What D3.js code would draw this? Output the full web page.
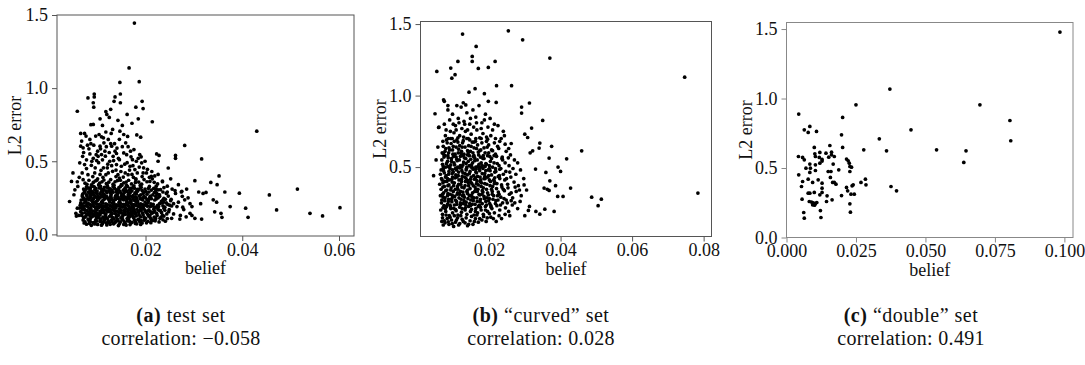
<!DOCTYPE html>
<html>
<head>
<meta charset="utf-8">
<script src="https://cdn.jsdelivr.net/npm/d3@7"></script>
<style>
  body { margin: 0; background: #fff; }
  text { font-family: "Liberation Serif", "Times New Roman", serif; }
</style>
</head>
<body>
<svg id="fig" width="1085" height="365"></svg>
<script>
// (belief, L2 error) pairs for each evaluation set

// (a) test set
const pointsA = [
  // isolated points
  [.0177,1.445],[.0166,1.138],[.0147,1.039],[.0187,1.044],[.0059,.842],[.0081,.933],[.0094,.96],[.0094,.94],
  [.0092,.9],[.0093,.87],[.0137,.94],[.0148,.96],[.0135,.91],[.0148,.9],[.0193,.91],[.0195,.86],[.018,.87],
  [.0185,.79],[.0118,.84],[.012,.82],[.0128,.855],[.0214,.77],[.0087,.75],[.0092,.752],[.0152,.745],[.0111,.745],
  [.0066,.69],[.0074,.69],[.0182,.68],[.019,.665],[.043,.706],[.0281,.608],[.0316,.516],[.0262,.54],[.0262,.52],
  [.0223,.55],[.0228,.54],[.0226,.5],[.0247,.454],[.0302,.367],[.0335,.355],[.0352,.4],[.0348,.34],[.0364,.29],
  [.031,.29],[.0319,.28],[.0325,.287],[.034,.236],[.0347,.22],[.0375,.19],[.0394,.282],[.0407,.179],[.0412,.117],
  [.0456,.27],[.0471,.167],[.0514,.31],[.054,.144],[.0566,.126],[.0602,.183],[.0314,.21],[.0316,.105],[.0343,.154],
  [.0356,.144],[.0358,.117],[.0292,.21],[.0292,.144],[.0281,.236],[.0274,.29],[.0276,.26],[.0271,.105],[.0254,.11],
  [.0277,.186],[.0125,.8],[.0143,.78],[.0106,.79],[.0162,.82],[.0172,.76],
  // middle band
  [.0068,.638],[.0066,.603],[.0071,.592],[.0077,.672],[.008,.61],[.0085,.649],[.0097,.672],[.0104,.683],[.0106,.603],
  [.0101,.569],[.0085,.55],[.007,.534],[.0064,.489],[.0074,.477],[.0088,.472],[.0099,.505],[.0109,.546],[.0116,.569],
  [.0114,.626],[.0123,.649],[.013,.603],[.0133,.534],[.0137,.569],[.014,.553],[.0126,.5],[.014,.477],[.0146,.511],
  [.015,.466],[.0155,.557],[.0159,.626],[.0155,.683],[.0147,.706],[.0132,.718],[.0118,.7],[.0109,.667],[.0169,.569],
  [.0173,.511],[.0168,.466],[.0178,.443],[.0188,.546],[.0192,.489],[.0195,.42],[.0202,.42],[.0209,.362],[.0212,.397],
  [.0218,.356],[.018,.374],[.0164,.408],[.0154,.392],[.0143,.408],[.0132,.431],[.0118,.408],[.0108,.438],[.0095,.42],
  [.0081,.408],[.0071,.374],[.006,.328],[.0054,.305],[.0047,.362],[.005,.42],[.0043,.225],[.0052,.271],[.0056,.144],
  [.0059,.179],[.0102,.534],[.0121,.455],[.0162,.49],[.0185,.52],[.0136,.62],[.0092,.52],
  [.0072,.56],[.0078,.51],[.0083,.585],[.0089,.5],[.0093,.61],[.0096,.455],[.0098,.545],[.0103,.49],[.0107,.585],
  [.0111,.51],[.0113,.455],[.0117,.535],[.0119,.6],[.0122,.48],[.0125,.56],[.0128,.62],[.013,.47],[.0134,.505],
  [.0139,.44],[.0141,.59],[.0144,.52],[.0149,.43],[.0152,.6],[.0157,.48],[.0161,.545],[.0164,.6],[.0167,.44],
  [.017,.53],[.0174,.47],[.0176,.58],[.0181,.5],[.0183,.42],[.0187,.46],[.0191,.53],[.0196,.455],[.0199,.5],
  [.0204,.445],[.0208,.39],[.0213,.43],[.0219,.4],[.0091,.395],[.0099,.37],[.0106,.41],[.0112,.39],[.0123,.42],
  [.0139,.395],[.0148,.37],[.0158,.42],[.0172,.41],[.0179,.355],[.0193,.395],[.0113,.66],[.0129,.69],[.0146,.65],
  [.0163,.67],[.0087,.62],[.0078,.45],[.0069,.42],[.0063,.39],[.0059,.36],
  // right shoulder of the cluster
  [.0222,.31],[.0229,.27],[.0237,.22],[.0243,.28],[.0249,.17],[.0253,.24],[.0258,.14],[.0261,.3],[.0265,.19],
  [.0268,.22],[.0272,.13],[.0279,.17],[.0284,.12],[.0288,.25],[.0296,.19],[.0226,.41],[.0235,.36],[.0245,.33],
  [.0252,.38],[.0268,.34],[.0285,.31],[.0296,.13],[.0302,.11],
  // dense cluster
  [.0075,.085],[.0078,.07],[.0083,.095],[.0088,.062],[.0092,.08],[.0097,.1],[.0101,.068],[.0106,.088],[.0111,.075],
  [.0115,.097],[.012,.065],[.0125,.082],[.013,.1],[.0134,.072],[.0139,.09],[.0144,.06],[.0148,.085],[.0153,.1],
  [.0158,.075],[.0163,.092],[.0168,.067],[.0172,.083],[.0177,.098],[.0182,.072],[.0188,.088],[.0193,.078],[.0205,.09],
  [.0215,.095],[.0228,.085],[.0236,.1],
  [.0073,.078],[.0081,.105],[.0086,.087],[.0095,.071],[.0099,.092],[.0104,.112],[.0109,.063],[.0113,.084],[.0118,.121],
  [.0123,.093],[.0127,.069],[.0132,.115],[.0137,.081],[.0142,.103],[.0146,.072],[.0151,.118],[.0156,.088],[.016,.064],
  [.0165,.106],[.017,.078],[.0175,.117],[.0179,.086],[.0184,.1],[.019,.068],[.0197,.097],[.0202,.079],[.021,.112],
  [.022,.093],[.0232,.118],[.0241,.09],
  [.0071,.098],[.0084,.076],[.0096,.086],[.0107,.096],[.0119,.079],[.0131,.087],[.0143,.094],[.0155,.068],[.0167,.09],
  [.0179,.075],[.0191,.094],[.0199,.1],[.0211,.08],
  [.0068,.13],[.0072,.112],[.0077,.125],[.0082,.138],[.0086,.108],[.009,.122],[.0094,.135],[.0099,.115],[.0103,.128],
  [.0108,.104],[.0112,.118],[.0117,.132],[.0121,.11],[.0126,.124],[.013,.138],[.0135,.105],[.0139,.119],[.0144,.131],
  [.0149,.112],[.0153,.126],[.0158,.137],[.0162,.108],[.0167,.121],[.0171,.133],[.0176,.114],[.0181,.127],[.0186,.105],
  [.019,.12],[.0195,.134],[.02,.11],[.0206,.125],[.0212,.102],[.0218,.118],[.0224,.13],[.023,.11],[.0238,.125],
  [.0245,.108],[.0062,.13],[.0057,.125],
  [.0074,.118],[.0085,.128],[.0097,.126],[.0106,.133],[.0116,.108],[.0128,.13],[.0141,.124],[.0152,.105],[.0164,.128],
  [.0174,.124],[.0187,.132],[.0197,.118],[.0209,.13],[.0221,.109],[.0235,.132],
  [.0069,.145],[.0074,.168],[.0079,.138],[.0083,.152],[.0087,.171],[.0091,.141],[.0096,.154],[.01,.167],[.0105,.139],
  [.0109,.149],[.0114,.164],[.0118,.14],[.0122,.155],[.0127,.172],[.0131,.146],[.0136,.162],[.014,.136],[.0145,.151],
  [.0149,.168],[.0154,.139],[.0158,.156],[.0163,.171],[.0167,.143],[.0171,.154],[.0175,.169],[.018,.137],[.0185,.158],
  [.0189,.17],[.0194,.146],[.0199,.164],[.0204,.139],[.021,.156],[.0217,.172],[.0223,.144],[.0231,.162],[.0244,.14],
  [.0066,.155],[.007,.172],[.0075,.148],[.0079,.163],[.0084,.178],[.0088,.145],[.0092,.16],[.0097,.175],[.0101,.142],
  [.0106,.157],[.011,.17],[.0114,.148],[.0119,.165],[.0123,.178],[.0128,.152],[.0132,.168],[.0137,.143],[.0141,.159],
  [.0146,.174],[.015,.147],[.0155,.162],[.0159,.177],[.0164,.15],[.0168,.166],[.0173,.142],[.0177,.158],[.0182,.172],
  [.0186,.148],[.0191,.163],[.0196,.178],[.0201,.152],[.0207,.167],[.0213,.145],[.0219,.16],[.0226,.172],[.0233,.15],
  [.024,.165],[.0248,.155],
  [.0073,.178],[.0086,.162],[.0098,.145],[.0111,.18],[.0124,.161],[.0134,.176],[.0147,.158],[.0157,.145],[.0169,.175],
  [.0179,.149],[.0192,.18],[.0205,.16],[.0216,.15],[.0228,.165],[.0238,.178],
  [.0065,.2],[.0069,.185],[.0073,.215],[.0078,.195],[.0082,.21],[.0087,.183],[.0091,.198],[.0095,.218],[.01,.188],
  [.0104,.205],[.0109,.22],[.0113,.192],[.0118,.208],[.0122,.182],[.0127,.197],[.0131,.214],[.0136,.186],[.014,.202],
  [.0145,.218],[.0149,.19],[.0154,.206],[.0158,.183],[.0163,.199],[.0167,.215],[.0172,.188],[.0176,.204],[.0181,.22],
  [.0185,.192],[.019,.208],[.0195,.185],[.02,.2],[.0205,.216],[.021,.19],[.0216,.205],[.0222,.186],[.0229,.21],
  [.0236,.195],[.0243,.215],[.025,.2],[.0258,.21],
  [.0064,.18],[.0068,.206],[.0072,.193],[.0077,.222],[.0081,.188],[.0086,.204],[.009,.225],[.0094,.191],[.0099,.207],
  [.0103,.182],[.0108,.198],[.0112,.213],[.0117,.186],[.0121,.203],[.0126,.221],[.013,.19],[.0135,.209],[.0139,.183],
  [.0144,.196],[.0148,.212],[.0153,.187],[.0157,.202],[.0162,.223],[.0166,.191],[.0171,.208],[.0175,.184],[.018,.198],
  [.0184,.214],[.0189,.189],[.0194,.203],[.0199,.221],[.0204,.193],[.0211,.208],[.0218,.184],[.0225,.199],[.0233,.215],
  [.024,.186],[.0254,.194],
  [.0066,.215],[.0079,.205],[.0092,.21],[.0106,.19],[.0119,.198],[.0133,.197],[.0146,.2],[.016,.21],[.0173,.196],
  [.0187,.2],[.0202,.207],[.0214,.196],[.0227,.19],[.0246,.205],
  [.0067,.235],[.0071,.252],[.0076,.228],[.008,.245],[.0085,.258],[.0089,.232],[.0093,.248],[.0098,.225],[.0102,.24],
  [.0107,.256],[.0111,.23],[.0116,.246],[.012,.259],[.0125,.234],[.0129,.25],[.0134,.224],[.0138,.24],[.0143,.255],
  [.0147,.229],[.0152,.245],[.0156,.258],[.0161,.232],[.0165,.248],[.017,.226],[.0174,.242],[.0179,.256],[.0184,.23],
  [.0189,.246],[.0194,.236],[.02,.252],[.0206,.228],[.0212,.244],[.0219,.235],[.0226,.25],[.0233,.226],[.0241,.24],
  [.0252,.23],
  [.0069,.262],[.0074,.243],[.0078,.27],[.0083,.236],[.0087,.264],[.0092,.241],[.0096,.261],[.0101,.233],[.0105,.249],
  [.011,.266],[.0114,.238],[.0119,.253],[.0123,.244],[.0128,.261],[.0132,.237],[.0137,.252],[.0141,.268],[.0146,.243],
  [.015,.26],[.0155,.236],[.0159,.251],[.0164,.265],[.0168,.24],[.0173,.258],[.0177,.233],[.0182,.249],[.0187,.264],
  [.0192,.241],[.0197,.258],[.0203,.238],[.0209,.255],[.0215,.27],[.0222,.242],[.0229,.26],[.0238,.246],[.0247,.262],
  [.0072,.24],[.0086,.25],[.0099,.252],[.0113,.258],[.0126,.242],[.014,.246],[.0153,.24],[.0167,.26],[.018,.24],
  [.0195,.25],[.0208,.245],[.0221,.26],[.0236,.236],
  [.007,.275],[.0075,.29],[.0079,.265],[.0084,.282],[.0088,.296],[.0093,.27],[.0097,.286],[.0102,.262],[.0106,.278],
  [.0111,.293],[.0115,.268],[.012,.284],[.0124,.298],[.0129,.272],[.0133,.288],[.0138,.263],[.0142,.279],[.0147,.294],
  [.0151,.269],[.0156,.285],[.016,.3],[.0165,.274],[.0169,.29],[.0174,.266],[.0178,.282],[.0184,.296],[.019,.27],
  [.0196,.288],[.0203,.275],[.021,.262],[.0218,.285],[.0227,.272],[.0236,.29],[.0262,.28],[.0275,.295],
  [.0073,.285],[.0087,.275],[.01,.28],[.0113,.278],[.0127,.285],[.0141,.288],[.0154,.276],[.0167,.282],[.0181,.276],
  [.0195,.278],[.0207,.29],[.0223,.28],[.0245,.29],
  [.0074,.302],[.0077,.31],[.0082,.29],[.0086,.318],[.0091,.287],[.0095,.304],[.01,.296],[.0104,.318],[.0108,.29],
  [.0113,.306],[.0118,.297],[.0123,.318],[.0127,.291],[.0131,.303],[.0136,.316],[.014,.292],[.0144,.307],[.0149,.283],
  [.0154,.302],[.0158,.318],[.0162,.292],[.0167,.304],[.0172,.298],[.0177,.316],[.0181,.293],[.0187,.31],[.0193,.3],
  [.0201,.293],[.0212,.303],[.0221,.296],[.0231,.306],
  [.0072,.31],[.0078,.325],[.0085,.305],[.0091,.33],[.0097,.315],[.0103,.338],[.0109,.308],[.0115,.322],[.0121,.335],
  [.0127,.312],[.0133,.328],[.0139,.305],[.0145,.32],[.0151,.336],[.0157,.31],[.0163,.326],[.0169,.314],[.0176,.332],
  [.0183,.308],[.0191,.322],[.0199,.31],[.0208,.328],[.0217,.315],[.0226,.305],[.0238,.32],[.0255,.31],
  [.0081,.318],[.0094,.325],[.0107,.328],[.0121,.322],[.0135,.336],[.0148,.327],[.0161,.336],[.0174,.322],[.0189,.335],
  [.0206,.315],[.0222,.33],
  [.0075,.35],[.0083,.37],[.0092,.355],[.0101,.38],[.011,.36],[.0119,.348],[.0128,.375],[.0137,.36],[.0146,.385],
  [.0155,.352],[.0165,.37],[.0175,.39],[.0186,.358],[.0197,.375],[.0225,.345],[.0235,.365],
  [.0079,.342],[.0088,.338],[.0096,.365],[.0105,.35],[.0114,.372],[.0124,.357],[.0133,.343],[.0142,.368],[.015,.34],
  [.016,.358],[.0171,.345],[.018,.38],[.0192,.343],[.0203,.36],[.0214,.38]
];

// (b) "curved" set
const pointsB = [
  // isolated points
  [.0126,1.43],[.0254,1.453],[.0294,1.39],[.037,1.262],[.0747,1.129],[.0784,.318],[.0054,1.169],[.0093,1.192],
  [.0096,1.122],[.0105,1.146],[.0113,1.239],[.0153,1.274],[.0153,1.239],[.0164,1.344],[.017,1.19],[.0198,1.197],
  [.0217,1.239],[.0221,1.069],[.0263,1.069],[.0161,1.048],[.0144,1.024],[.0187,1.013],[.0198,.96],[.022,.952],
  [.0291,.92],[.0291,.878],[.0313,.948],[.035,.826],[.0319,.773],[.03,.73],[.0308,.707],[.0049,.873],[.0073,.97],
  [.0059,.777],[.0459,.614],[.0417,.558],[.0375,.645],[.0368,.563],[.0342,.668],[.034,.633],[.0322,.614],[.0315,.6],
  [.0393,.5],[.04,.47],[.0359,.463],[.033,.486],[.037,.404],[.0368,.337],[.0363,.345],[.0386,.37],[.0392,.295],
  [.0407,.295],[.0428,.353],[.0487,.29],[.0514,.276],[.0505,.23],[.0354,.353],[.0382,.19],[.0356,.206],[.0342,.171],
  [.0331,.19],[.031,.197],[.0313,.225],[.03,.16],[.0045,.44],[.0052,.55],[.0057,.64],[.006,.78],[.0075,.96],
  [.0085,.93],[.0128,.95],[.0135,.935],[.011,.93],
  // dense cluster
  [.0068,.12],[.0072,.095],[.0077,.11],[.0083,.14],[.0088,.1],[.0095,.13],[.0101,.085],[.0106,.115],[.0112,.145],
  [.0118,.105],[.0125,.135],[.0133,.11],[.014,.09],[.0147,.125],[.0155,.1],[.0162,.14],[.017,.115],[.018,.13],
  [.0195,.145],[.0205,.15],[.022,.12],[.0235,.14],
  [.007,.145],[.0075,.125],[.008,.165],[.0086,.118],[.0091,.15],[.0097,.105],[.0103,.16],[.0109,.13],[.0115,.095],
  [.0121,.16],[.0128,.12],[.0136,.145],[.0143,.1],[.0151,.155],[.0159,.12],[.0166,.165],[.0174,.14],[.0185,.155],
  [.0192,.12],[.0201,.175],[.0212,.14],[.0228,.16],[.0245,.17],[.0258,.16],
  [.0065,.2],[.007,.17],[.0074,.23],[.0079,.19],[.0084,.24],[.0089,.16],[.0093,.21],[.0098,.18],[.0103,.235],
  [.0108,.195],[.0113,.165],[.0118,.22],[.0123,.185],[.0128,.245],[.0133,.2],[.0138,.17],[.0143,.225],[.0148,.19],
  [.0153,.24],[.0158,.165],[.0163,.21],[.0168,.18],[.0173,.235],[.0178,.2],[.0184,.17],[.019,.225],[.0196,.19],
  [.0202,.245],[.0208,.21],[.0215,.18],[.0222,.23],[.023,.2],[.0238,.25],[.0246,.215],[.0255,.19],[.0265,.235],
  [.028,.21],
  [.0078,.21],[.0092,.225],[.0106,.205],[.012,.235],[.0134,.215],[.0148,.23],[.0162,.19],[.0176,.22],[.019,.2],
  [.0206,.22],
  [.0067,.25],[.0071,.215],[.0076,.265],[.0081,.225],[.0087,.275],[.0091,.235],[.0096,.258],[.0101,.212],[.0106,.27],
  [.011,.24],[.0116,.285],[.012,.25],[.0125,.21],[.013,.265],[.0135,.235],[.0141,.28],[.0146,.245],[.0151,.205],
  [.0156,.265],[.0161,.24],[.0166,.285],[.017,.225],[.0175,.26],[.0181,.245],[.0187,.28],[.0193,.235],[.0199,.265],
  [.0205,.23],[.0211,.275],[.0218,.245],[.0225,.27],[.0232,.235],[.0242,.28],[.0251,.25],[.0262,.265],[.0272,.25],
  [.0287,.26],
  [.0064,.3],[.0068,.27],[.0073,.32],[.0077,.285],[.0082,.34],[.0086,.26],[.0091,.31],[.0095,.275],[.01,.33],
  [.0104,.295],[.0109,.26],[.0113,.345],[.0118,.31],[.0122,.275],[.0127,.325],[.0131,.29],[.0136,.255],[.014,.34],
  [.0145,.3],[.0149,.27],[.0154,.32],[.0158,.285],[.0163,.345],[.0167,.26],[.0172,.31],[.0176,.275],[.0181,.335],
  [.0186,.295],[.0191,.26],[.0196,.32],[.0201,.28],[.0207,.345],[.0213,.3],[.0219,.265],[.0226,.325],[.0233,.29],
  [.024,.345],[.0248,.27],[.0257,.31],[.0266,.285],[.0276,.33],[.029,.3],[.0305,.34],
  [.0072,.29],[.0085,.315],[.0098,.29],[.0112,.32],[.0126,.3],[.014,.315],[.0153,.29],[.0167,.33],[.018,.31],
  [.0194,.285],[.0209,.31],[.0224,.3],
  [.0066,.345],[.007,.31],[.0075,.365],[.0079,.335],[.0084,.3],[.0088,.375],[.0093,.34],[.0097,.305],[.0101,.37],
  [.0106,.345],[.0111,.31],[.0115,.38],[.012,.33],[.0124,.36],[.0129,.305],[.0133,.37],[.0138,.33],[.0142,.39],
  [.0147,.35],[.0151,.305],[.0156,.37],[.016,.33],[.0165,.385],[.0169,.345],[.0174,.305],[.0178,.365],[.0183,.325],
  [.0188,.385],[.0193,.345],[.0198,.305],[.0203,.37],[.0209,.33],[.0215,.385],[.0221,.35],[.0228,.31],[.0235,.375],
  [.0243,.335],[.0253,.355],[.0262,.32],[.0273,.36],[.0285,.34],[.0298,.375],
  [.0062,.38],[.0067,.42],[.0071,.36],[.0076,.4],[.008,.44],[.0085,.37],[.0089,.41],[.0094,.355],[.0098,.43],
  [.0103,.39],[.0107,.445],[.0112,.365],[.0116,.41],[.0121,.38],[.0125,.435],[.013,.355],[.0134,.4],[.0139,.445],
  [.0143,.37],[.0148,.415],[.0152,.385],[.0157,.44],[.0161,.36],[.0166,.405],[.017,.375],[.0175,.43],[.0179,.39],
  [.0184,.355],[.0189,.42],[.0194,.38],[.0199,.44],[.0204,.4],[.021,.365],[.0216,.425],[.0222,.385],[.0229,.44],
  [.0236,.36],[.0244,.41],[.0252,.38],[.0261,.43],[.027,.395],[.0282,.37],[.0297,.42],
  [.0071,.39],[.0084,.42],[.0097,.395],[.011,.43],[.0123,.4],[.0136,.42],[.0149,.395],[.0162,.425],[.0175,.4],
  [.0188,.435],[.0201,.41],[.0215,.4],[.023,.42],
  [.0064,.45],[.0069,.41],[.0073,.475],[.0078,.43],[.0082,.4],[.0087,.45],[.0091,.49],[.0096,.415],[.01,.465],
  [.0105,.425],[.0109,.48],[.0114,.44],[.0118,.495],[.0123,.415],[.0127,.46],[.0132,.43],[.0136,.48],[.0141,.405],
  [.0145,.455],[.015,.43],[.0154,.495],[.0159,.415],[.0163,.465],[.0168,.435],[.0172,.49],[.0177,.41],[.0181,.455],
  [.0186,.42],[.0191,.475],[.0196,.43],[.0201,.49],[.0207,.445],[.0213,.41],[.0219,.47],[.0226,.435],[.0233,.49],
  [.024,.45],[.0249,.42],[.0258,.465],[.0275,.45],[.0288,.48],
  [.0066,.48],[.007,.52],[.0075,.46],[.0079,.5],[.0084,.54],[.0088,.47],[.0093,.515],[.0097,.455],[.0102,.53],
  [.0106,.49],[.0111,.545],[.0115,.465],[.012,.51],[.0124,.475],[.0129,.535],[.0133,.455],[.0138,.5],[.0142,.54],
  [.0147,.47],[.0151,.515],[.0156,.485],[.016,.545],[.0165,.46],[.0169,.505],[.0174,.475],[.0178,.53],[.0183,.49],
  [.0188,.455],[.0193,.52],[.0198,.48],[.0204,.54],[.021,.5],[.0216,.465],[.0223,.525],[.023,.485],[.0238,.55],
  [.0247,.47],[.0256,.51],[.0267,.49],[.028,.53],
  [.0072,.49],[.0085,.505],[.0098,.48],[.0111,.495],[.0124,.5],[.0137,.49],[.015,.5],[.0163,.485],[.0176,.5],
  [.0189,.505],[.0203,.475],[.0218,.49],
  [.0068,.55],[.0072,.505],[.0077,.58],[.0081,.525],[.0086,.565],[.009,.5],[.0095,.54],[.0099,.59],[.0104,.515],
  [.0108,.57],[.0113,.5],[.0117,.55],[.0122,.595],[.0127,.515],[.0131,.565],[.0136,.525],[.014,.585],[.0145,.51],
  [.0149,.555],[.0154,.53],[.0158,.58],[.0163,.5],[.0167,.55],[.0172,.52],[.0176,.57],[.0181,.51],[.0186,.56],
  [.0191,.525],[.0196,.58],[.0201,.51],[.0207,.56],[.0214,.53],[.0221,.575],[.0228,.51],[.0236,.56],[.0245,.53],
  [.0254,.565],[.0271,.55],
  [.0069,.6],[.0074,.57],[.0079,.63],[.0085,.58],[.009,.62],[.0095,.56],[.01,.645],[.0105,.59],[.011,.555],
  [.0115,.625],[.012,.575],[.0125,.64],[.013,.59],[.0135,.56],[.014,.615],[.0145,.58],[.015,.645],[.0155,.6],
  [.016,.565],[.0165,.63],[.0171,.585],[.0177,.62],[.0183,.56],[.0189,.6],[.0195,.64],[.0202,.575],[.021,.615],
  [.0218,.59],[.0227,.63],[.0237,.57],[.0248,.61],[.026,.585],
  [.0073,.59],[.0087,.6],[.0101,.575],[.0114,.6],[.0128,.58],[.0142,.6],[.0156,.575],[.017,.605],[.0184,.58],
  [.0199,.6],[.0214,.58],
  [.0072,.645],[.0077,.61],[.0083,.67],[.0088,.635],[.0093,.7],[.0098,.62],[.0103,.68],[.0108,.64],[.0113,.705],
  [.0118,.65],[.0123,.61],[.0128,.685],[.0133,.64],[.0138,.7],[.0143,.65],[.0148,.61],[.0153,.675],[.0158,.635],
  [.0163,.7],[.0168,.655],[.0174,.615],[.018,.67],[.0186,.635],[.0193,.71],[.0199,.655],[.0207,.62],[.0215,.67],
  [.0224,.645],[.0234,.7],[.0245,.66],[.0255,.63],
  [.0071,.68],[.0078,.72],[.0086,.7],[.0094,.665],[.0102,.74],[.011,.69],[.0118,.72],[.0126,.67],[.0134,.75],
  [.0142,.7],[.015,.73],[.0158,.675],[.0166,.76],[.0174,.705],[.0183,.735],[.0193,.68],[.0205,.72],[.0218,.7],
  [.023,.68],[.0243,.72],[.0262,.665],
  [.0081,.69],[.0097,.7],[.0113,.675],[.0129,.71],[.0146,.69],[.0162,.68],[.0178,.7],[.0196,.695],
  [.008,.76],[.0092,.75],[.01,.8],[.0108,.76],[.0116,.81],[.0124,.77],[.0132,.8],[.014,.76],[.0148,.84],
  [.0157,.78],[.0165,.81],[.0178,.77],[.0187,.83],[.0197,.78],[.021,.76],[.0225,.79],[.024,.75],
  [.0075,.8],[.0085,.9],[.009,.83],[.0098,.87],[.0106,.79],[.0114,.84],[.0122,.92],[.013,.82],[.0138,.88],
  [.0146,.8],[.0155,.9],[.0163,.85],[.0172,.93],[.018,.81],[.019,.87],[.0203,.84],[.0215,.8]
];

// (c) "double" set
const pointsC = [
  [.0984,1.478],[.0044,.888],[.0372,1.068],[.025,.955],[.0696,.955],[.0804,.842],[.0807,.696],[.0448,.775],
  [.0334,.71],[.036,.624],[.0278,.631],[.054,.631],[.0646,.624],[.0638,.54],[.0376,.367],[.0396,.336],
  [.0202,.864],[.0198,.739],[.0202,.648],[.0064,.775],[.0078,.756],[.0084,.799],[.0108,.763],[.0043,.583],
  [.0058,.576],[.0064,.559],[.0044,.451],[.0058,.403],[.0054,.367],[.0056,.276],[.0062,.18],[.0064,.139],
  [.007,.499],[.0078,.42],[.0078,.319],[.0084,.319],[.0084,.468],[.0084,.528],[.0086,.499],[.0082,.259],
  [.009,.255],[.0094,.396],[.01,.324],[.01,.648],[.0102,.602],[.0104,.583],[.0104,.523],[.0104,.482],
  [.0096,.25],[.0104,.245],[.0109,.252],[.0101,.232],[.0094,.235],[.0118,.576],[.012,.612],[.012,.535],
  [.0114,.415],[.012,.307],[.0122,.194],[.0124,.144],[.0128,.55],[.0128,.562],[.0128,.391],[.0128,.355],
  [.0128,.324],[.0142,.607],[.0144,.259],[.0146,.3],[.015,.475],[.0152,.578],[.0156,.662],[.0158,.432],
  [.0162,.614],[.0162,.595],[.016,.475],[.0164,.271],[.0166,.396],[.0172,.396],[.0168,.528],[.0172,.583],
  [.0178,.384],[.0188,.487],[.0198,.302],[.0216,.36],[.022,.336],[.0216,.564],[.0222,.552],[.0226,.535],
  [.0228,.511],[.0228,.475],[.0232,.312],[.0244,.312],[.0228,.242],[.023,.182],[.0236,.372],[.024,.379],
  [.0234,.506],[.0268,.396],[.0284,.42],[.0286,.379]
];

const xTicksA = [0.02, 0.04, 0.06];
const xTicksB = [0.02, 0.04, 0.06, 0.08];
const xTicksC = [0.000, 0.025, 0.050, 0.075, 0.100];
const yTicksA = [0.0, 0.5, 1.0, 1.5];
const yTicksB = [0.5, 1.0, 1.5];
const yTicksC = [0.0, 0.5, 1.0, 1.5];

const captionTags = ["(a)", "(b)", "(c)"];
const captionNames = ["test set", "\u201Ccurved\u201D set", "\u201Cdouble\u201D set"];
const correlations = ["\u22120.058", "0.028", "0.491"];

const xLabel = "belief";
const yLabel = "L2 error";

// panel layout: plot box in page pixels, axis ranges and styling
const panels = [
  { pts: pointsA, xTicks: xTicksA, yTicks: yTicksA, xFmt: ".2f",
    xDom: [0.0017, 0.0631], yDom: [-0.011, 1.5],
    box: { l: 57, r: 354, t: 15, b: 236 }, frame: "#555", yLabX: 21, capX: 181 },
  { pts: pointsB, xTicks: xTicksB, yTicks: yTicksB, xFmt: ".2f",
    xDom: [0.00084, 0.0822], yDom: [0.0147, 1.518],
    box: { l: 420.5, r: 711.5, t: 21.5, b: 236.5 }, frame: "#555", yLabX: 386, capX: 541 },
  { pts: pointsC, xTicks: xTicksC, yTicks: yTicksC, xFmt: ".3f",
    xDom: [0, 0.1031], yDom: [0, 1.547],
    box: { l: 786.5, r: 1073, t: 22.5, b: 237.5 }, frame: "#888", yLabX: 752, capX: 911 }
];

const svg = d3.select("#fig");
const fontSize = 18;
const capSize = 20;

panels.forEach((p, i) => {
  const x = d3.scaleLinear().domain(p.xDom).range([p.box.l, p.box.r]);
  const y = d3.scaleLinear().domain(p.yDom).range([p.box.b, p.box.t]);
  const g = svg.append("g");

  // points
  g.append("g").selectAll("circle").data(p.pts).join("circle")
    .attr("cx", d => x(d[0]))
    .attr("cy", d => y(d[1]))
    .attr("r", 1.85)
    .attr("fill", "#000");

  // frame
  g.append("rect")
    .attr("x", p.box.l).attr("y", p.box.t)
    .attr("width", p.box.r - p.box.l).attr("height", p.box.b - p.box.t)
    .attr("fill", "none").attr("stroke", p.frame).attr("stroke-width", 1);

  // x axis
  const xa = g.append("g").attr("transform", `translate(0,${p.box.b})`)
    .call(d3.axisBottom(x).tickValues(p.xTicks).tickFormat(d3.format(p.xFmt))
      .tickSize(5).tickSizeOuter(0).tickPadding(2));
  xa.select(".domain").remove();
  xa.selectAll("line").attr("stroke", p.frame);
  xa.selectAll("text").attr("font-size", fontSize).attr("fill", "#111")
    .attr("font-family", "Liberation Serif");

  // y axis
  const ya = g.append("g").attr("transform", `translate(${p.box.l},0)`)
    .call(d3.axisLeft(y).tickValues(p.yTicks).tickFormat(d3.format(".1f"))
      .tickSize(5).tickSizeOuter(0).tickPadding(4));
  ya.select(".domain").remove();
  ya.selectAll("line").attr("stroke", p.frame);
  ya.selectAll("text").attr("font-size", fontSize).attr("fill", "#111")
    .attr("font-family", "Liberation Serif");

  // axis titles
  g.append("text")
    .attr("x", (p.box.l + p.box.r) / 2).attr("y", p.box.b + 38)
    .attr("text-anchor", "middle").attr("font-size", fontSize).attr("fill", "#111")
    .text(xLabel);
  g.append("text")
    .attr("transform", `translate(${p.yLabX},${(p.box.t + p.box.b) / 2}) rotate(-90)`)
    .attr("text-anchor", "middle").attr("font-size", fontSize).attr("fill", "#111")
    .text(yLabel);

  // caption, two lines
  const cap = svg.append("text")
    .attr("x", p.capX).attr("y", 322)
    .attr("text-anchor", "middle").attr("font-size", capSize).attr("fill", "#111")
    .attr("letter-spacing", 0.5);
  cap.append("tspan").attr("font-weight", "bold").text(captionTags[i]);
  cap.append("tspan").text(" " + captionNames[i]);
  svg.append("text")
    .attr("x", p.capX).attr("y", 345)
    .attr("text-anchor", "middle").attr("font-size", capSize).attr("fill", "#111")
    .attr("letter-spacing", 0.3)
    .text("correlation: " + correlations[i]);
});
</script>
</body>
</html>
